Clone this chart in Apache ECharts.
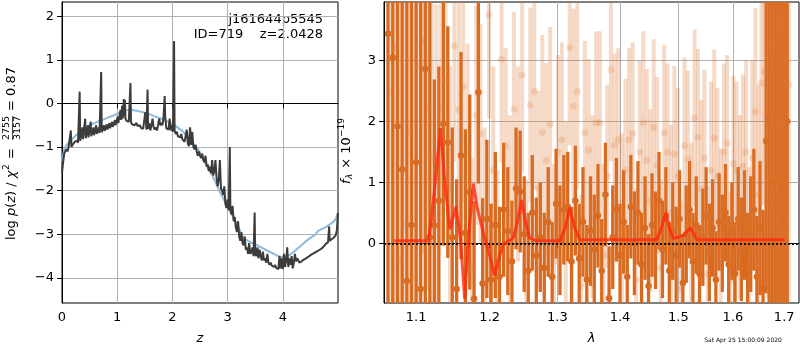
<!DOCTYPE html>
<html>
<head>
<meta charset="utf-8">
<script src="https://cdn.jsdelivr.net/npm/echarts@6/dist/echarts.min.js"></script>
<style>
  html, body { margin: 0; padding: 0; background: #fff; }
  #chart { width: 800px; height: 350px; }
</style>
</head>
<body>
<div id="chart"></div>
<script>
// ---- left panel: log p(z) ----
const zDark = [0.00, 0.02, 0.04, 0.06, 0.08, 0.10, 0.12, 0.14, 0.16, 0.17, 0.19, 0.21, 0.23, 0.25, 0.27, 0.29, 0.31, 0.32, 0.33, 0.35,
  0.37, 0.38, 0.40, 0.42, 0.43, 0.45, 0.47, 0.48, 0.50, 0.52, 0.53, 0.55, 0.57, 0.58, 0.60, 0.62, 0.63, 0.65, 0.67, 0.68,
  0.70, 0.71, 0.72, 0.74, 0.76, 0.77, 0.79, 0.81, 0.82, 0.84, 0.86, 0.87, 0.89, 0.91, 0.92, 0.94, 0.96, 0.97, 0.99, 1.01,
  1.02, 1.04, 1.06, 1.07, 1.09, 1.10, 1.12, 1.13, 1.14, 1.15, 1.17, 1.19, 1.21, 1.23, 1.24, 1.25, 1.27, 1.29, 1.31, 1.33,
  1.35, 1.37, 1.39, 1.41, 1.43, 1.45, 1.47, 1.49, 1.51, 1.53, 1.55, 1.56, 1.58, 1.60, 1.62, 1.64, 1.66, 1.68, 1.70, 1.72,
  1.74, 1.76, 1.78, 1.80, 1.82, 1.84, 1.86, 1.87, 1.89, 1.91, 1.93, 1.95, 1.97, 1.99, 2.01, 2.03, 2.04, 2.06, 2.08, 2.10,
  2.12, 2.14, 2.16, 2.18, 2.20, 2.22, 2.24, 2.26, 2.28, 2.30, 2.32, 2.34, 2.36, 2.38, 2.40, 2.42, 2.44, 2.46, 2.48, 2.50,
  2.52, 2.54, 2.56, 2.58, 2.60, 2.62, 2.64, 2.66, 2.68, 2.70, 2.72, 2.74, 2.76, 2.78, 2.80, 2.82, 2.84, 2.86, 2.88, 2.90,
  2.92, 2.94, 2.96, 2.98, 3.00, 3.02, 3.04, 3.05, 3.07, 3.09, 3.11, 3.13, 3.15, 3.17, 3.19, 3.21, 3.23, 3.25, 3.27, 3.29,
  3.31, 3.33, 3.35, 3.37, 3.39, 3.41, 3.43, 3.45, 3.47, 3.49, 3.50, 3.52, 3.54, 3.56, 3.58, 3.60, 3.62, 3.64, 3.66, 3.68,
  3.70, 3.72, 3.74, 3.76, 3.78, 3.80, 3.82, 3.84, 3.86, 3.88, 3.90, 3.92, 3.94, 3.96, 3.98, 4.00, 4.02, 4.04, 4.06, 4.08,
  4.10, 4.12, 4.14, 4.16, 4.18, 4.20, 4.22, 4.24, 4.26, 4.28, 4.30, 4.34, 4.38, 4.42, 4.46, 4.50, 4.54, 4.58, 4.62, 4.66,
  4.70, 4.74, 4.78, 4.82, 4.84, 4.85, 4.88, 4.92, 4.96, 4.98, 5.00];
const logpDark = [-1.60, -1.35, -1.15, -1.12, -1.05, -1.10, -1.00, -1.02, -0.62, -1.00, -0.95, -0.97, -0.88, -0.92, -0.85, -0.90, -0.88, 0.27, -0.86, -0.84,
  -0.55, -0.82, -0.80, -0.35, -0.80, -0.78, -0.50, -0.78, -0.76, -0.42, -0.75, -0.74, -0.55, -0.73, -0.72, -0.50, -0.70, -0.69, -0.55, -0.68,
  -0.67, 0.72, -0.66, -0.65, -0.50, -0.63, -0.62, -0.48, -0.60, -0.59, -0.45, -0.57, -0.55, -0.42, -0.54, -0.52, -0.38, -0.50, -0.48, -0.30,
  -0.45, -0.42, -0.15, -0.38, -0.05, -0.35, 0.10, -0.30, 0.08, -0.35, -0.40, -0.38, -0.42, -0.45, 0.47, -0.43, -0.48, -0.45, -0.50, -0.48,
  -0.45, -0.52, -0.55, -0.50, -0.56, -0.52, -0.58, -0.55, -0.20, -0.60, 0.32, -0.58, -0.45, -0.62, -0.50, -0.35, -0.55, -0.60, -0.55, -0.62,
  -0.50, -0.35, -0.50, -0.45, -0.50, -0.30, 0.17, -0.30, -0.57, -0.55, -0.60, -0.35, -0.62, -0.50, -0.65, 1.43, -0.62, -0.70, -0.65, -0.75,
  -0.72, -0.78, -0.70, -0.82, -0.80, -0.88, -0.85, -0.60, -0.92, -0.98, -0.55, -0.95, -0.65, -1.00, -1.05, -0.95, -1.10, -1.20, -1.10, -1.20,
  -1.25, -1.15, -1.30, -1.35, -1.20, -1.45, -1.40, -1.55, -1.45, -1.60, -1.30, -1.65, -1.55, -1.30, -1.70, -1.90, -1.75, -1.30, -1.95, -2.00,
  -2.10, -1.90, -2.30, -2.40, -2.20, -2.45, -1.00, -2.40, -2.55, -2.35, -2.70, -2.60, -2.85, -2.95, -2.70, -3.05, -3.15, -2.95, -3.20, -3.25,
  -3.05, -3.35, -3.30, -3.45, -3.20, -3.45, -3.40, -3.30, -3.50, -2.50, -3.45, -3.50, -3.30, -3.55, -3.35, -3.50, -3.60, -3.40, -3.60, -3.55,
  -3.65, -3.45, -3.65, -3.70, -3.65, -3.72, -3.68, -3.75, -3.70, -3.77, -3.73, -3.80, -3.50, -3.78, -3.55, -3.80, -3.45, -3.75, -3.60, -3.30,
  -3.75, -3.55, -3.70, -3.50, -3.78, -3.65, -3.45, -3.62, -3.55, -3.58, -3.65, -3.62, -3.58, -3.55, -3.52, -3.48, -3.45, -3.42, -3.39, -3.36,
  -3.33, -3.28, -3.22, -3.18, -2.82, -3.15, -3.12, -3.08, -3.02, -2.90, -2.50];

const zSmooth = [0.00, 0.04, 0.08, 0.15, 0.23, 0.32, 0.41, 0.50, 0.59, 0.68, 0.77, 0.86, 0.95, 1.04, 1.13, 1.20, 1.27, 1.35, 1.43, 1.55,
  1.67, 1.80, 1.92, 2.05, 2.19, 2.30, 2.40, 2.49, 2.60, 2.73, 2.85, 2.96, 3.10, 3.20, 3.27, 3.33, 3.45, 3.55, 3.70, 3.88,
  4.00, 4.12, 4.20, 4.30, 4.40, 4.48, 4.58, 4.64, 4.70, 4.79, 4.91, 4.96, 5.00];
const logpSmooth = [-1.33, -1.05, -0.96, -0.86, -0.76, -0.66, -0.57, -0.50, -0.45, -0.40, -0.36, -0.31, -0.27, -0.21, -0.16, -0.15, -0.15, -0.17, -0.19, -0.23,
  -0.29, -0.35, -0.42, -0.51, -0.64, -0.80, -0.95, -1.10, -1.38, -1.67, -2.00, -2.27, -2.61, -2.85, -3.05, -3.12, -3.20, -3.26, -3.36, -3.48,
  -3.53, -3.48, -3.40, -3.29, -3.18, -3.10, -3.02, -2.92, -2.88, -2.83, -2.72, -2.65, -2.50];

const zTicks = [0, 1, 2, 3, 4];
const logpTicks = [-4, -3, -2, -1, 0, 1, 2];

// ---- right panel: 1D spectrum ----
const lamDark = [1.064, 1.070, 1.076, 1.082, 1.088, 1.094, 1.100, 1.106, 1.112, 1.118, 1.124, 1.130, 1.136, 1.142, 1.148, 1.154, 1.160, 1.166, 1.172, 1.178,
  1.184, 1.190, 1.196, 1.202, 1.208, 1.214, 1.220, 1.226, 1.232, 1.238, 1.244, 1.250, 1.256, 1.262, 1.268, 1.274, 1.280, 1.286, 1.292, 1.298,
  1.304, 1.310, 1.316, 1.322, 1.328, 1.334, 1.340, 1.346, 1.352, 1.358, 1.364, 1.370, 1.376, 1.382, 1.388, 1.394, 1.400, 1.406, 1.412, 1.418,
  1.424, 1.430, 1.436, 1.442, 1.448, 1.454, 1.460, 1.466, 1.472, 1.478, 1.484, 1.490, 1.496, 1.502, 1.508, 1.514, 1.520, 1.526, 1.532, 1.538,
  1.544, 1.550, 1.556, 1.562, 1.568, 1.574, 1.580, 1.586, 1.592, 1.598, 1.604, 1.610, 1.616, 1.622, 1.628, 1.634, 1.640, 1.646, 1.652, 1.658,
  1.664, 1.670, 1.676, 1.682, 1.688, 1.694, 1.700, 1.706];
const fluxDark = [3.44, 3.05, 1.92, 1.21, -0.62, 0.30, 1.33, -0.75, 2.86, 0.10, 0.29, 0.70, 1.96, 1.66, 0.10, -0.75, 1.44, 0.17, 0.84, -0.91,
  2.48, -0.66, 0.40, -0.60, 0.30, -0.55, 0.55, 0.20, -0.30, 0.90, 0.85, 0.15, -0.45, 0.50, -0.20, 0.10, -0.40, 0.35, -0.55, 0.65,
  0.05, 0.55, 0.60, -0.30, 0.70, -0.25, 0.35, -0.60, 0.20, -0.10, 0.45, -0.45, 0.80, -0.90, 0.10, 0.55, -0.20, 0.35, -0.55, 0.60,
  0.00, 0.50, -0.35, 0.25, -0.70, 0.30, 0.05, 0.70, -0.10, 0.45, -0.45, 0.20, -0.20, 0.40, -0.65, 0.15, 0.55, -0.30, 0.30, -0.50,
  0.10, 0.45, -0.15, 0.25, -0.60, 0.35, 0.00, 0.50, -0.35, 0.20, -0.50, 0.40, -0.10, 0.30, -0.40, 0.15, 0.55, -0.55, 0.25, -0.75,
  1.68, 2.03, 1.00, 0.60, 2.50, 0.96, 0.40, 2.00];
const errDark = [6, 6, 6, 6, 6, 5, 5, 5, 4.5, 4, 2.4, 2.2, 2.0, 1.9, 1.8, 1.8, 1.7, 1.7, 1.6, 1.6,
  1.5, 1.4, 1.3, 1.25, 1.2, 1.15, 1.1, 1.05, 1.0, 1.0, 1.0, 0.95, 0.95, 0.95, 0.95, 0.9, 0.9, 0.9, 0.9, 0.9,
  0.9, 0.9, 0.9, 0.9, 0.9, 0.9, 0.9, 0.9, 0.9, 0.9, 0.85, 0.85, 0.85, 0.85, 0.85, 0.85, 0.85, 0.85, 0.85, 0.85,
  0.85, 0.85, 0.85, 0.85, 0.85, 0.85, 0.8, 0.8, 0.8, 0.8, 0.8, 0.8, 0.8, 0.8, 0.8, 0.8, 0.8, 0.8, 0.8, 0.8,
  0.8, 0.8, 0.8, 0.8, 0.8, 0.8, 0.8, 0.8, 0.8, 0.8, 0.85, 0.85, 0.85, 0.9, 0.9, 0.95, 1.0, 1.0, 1.1, 1.3,
  2.5, 3, 4, 5, 6, 6, 6, 6];

const lamLight = [1.067, 1.073, 1.079, 1.085, 1.091, 1.097, 1.103, 1.109, 1.115, 1.121, 1.127, 1.133, 1.139, 1.145, 1.151, 1.157, 1.163, 1.169, 1.175, 1.181,
  1.187, 1.193, 1.199, 1.205, 1.211, 1.217, 1.223, 1.229, 1.235, 1.241, 1.247, 1.253, 1.259, 1.265, 1.271, 1.277, 1.283, 1.289, 1.295, 1.301,
  1.307, 1.313, 1.319, 1.325, 1.331, 1.337, 1.343, 1.349, 1.355, 1.361, 1.367, 1.373, 1.379, 1.385, 1.391, 1.397, 1.403, 1.409, 1.415, 1.421,
  1.427, 1.433, 1.439, 1.445, 1.451, 1.457, 1.463, 1.469, 1.475, 1.481, 1.487, 1.493, 1.499, 1.505, 1.511, 1.517, 1.523, 1.529, 1.535, 1.541,
  1.547, 1.553, 1.559, 1.565, 1.571, 1.577, 1.583, 1.589, 1.595, 1.601, 1.607, 1.613, 1.619, 1.625, 1.631, 1.637, 1.643, 1.649, 1.655, 1.661,
  1.667, 1.673, 1.679, 1.685, 1.691, 1.697, 1.703, 1.709];
const fluxLight = [2.50, 3.20, -0.30, 0.33, 1.83, -0.56, 2.92, 3.33, 2.23, 1.39, 1.42, 2.20, 2.69, 0.90, 3.24, 2.19, 2.57, 1.48, -0.40, 2.10,
  1.80, 0.20, 3.75, 1.20, -0.50, 3.02, 1.60, 0.50, 2.20, 1.30, 2.76, -0.55, 2.27, 2.49, 0.90, 1.82, 1.36, 1.95, -0.30, 1.49,
  1.70, 0.40, 3.21, 2.25, 2.49, -0.70, 1.82, 1.53, 0.60, 1.98, 1.98, -0.20, 1.10, 2.85, 1.61, 1.70, 0.30, 1.20, 1.70, 1.80,
  -0.60, 1.50, 1.98, 1.36, 0.70, 1.90, 1.28, -0.40, 1.81, 1.50, 0.50, 1.46, 1.10, -0.75, 1.60, 1.38, 0.20, 2.06, 1.74, 0.90,
  1.40, -0.50, 1.20, 1.73, 1.10, 0.10, 1.50, 1.64, -0.60, 1.30, 1.20, 0.60, 1.27, 1.50, -0.30, 1.40, 2.16, 0.80, 2.63, 2.81,
  1.60, 2.93, 3.33, 2.50, 3.60, 2.00, 3.00, 2.60];
const errLight = [6, 6, 6, 5, 5, 4.5, 4, 3.5, 3, 2.8, 2.5, 2.2, 2.0, 2.0, 1.9, 1.9, 1.9, 1.8, 1.8, 1.8,
  1.8, 1.7, 1.7, 1.7, 1.7, 1.7, 1.6, 1.6, 1.6, 1.6, 1.6, 1.6, 1.6, 1.6, 1.6, 1.6, 1.6, 1.6, 1.6, 1.6,
  1.6, 1.6, 1.6, 1.6, 1.6, 1.5, 1.5, 1.5, 1.5, 1.5, 1.5, 1.5, 1.5, 1.5, 1.5, 1.5, 1.5, 1.5, 1.5, 1.5,
  1.5, 1.5, 1.5, 1.5, 1.5, 1.45, 1.45, 1.45, 1.45, 1.45, 1.45, 1.45, 1.45, 1.45, 1.45, 1.45, 1.45, 1.45, 1.45, 1.45,
  1.45, 1.45, 1.45, 1.45, 1.45, 1.45, 1.45, 1.45, 1.45, 1.45, 1.45, 1.5, 1.5, 1.5, 1.55, 1.6, 1.7, 1.8, 2.0, 2.2,
  2.5, 2.8, 3.2, 4, 5, 6, 6, 6];

const lamModel = [1.072, 1.090, 1.105, 1.116, 1.120, 1.126, 1.132, 1.138, 1.145, 1.153, 1.159, 1.165, 1.171, 1.177, 1.183, 1.191, 1.200, 1.207, 1.213, 1.219,
  1.226, 1.234, 1.240, 1.246, 1.252, 1.258, 1.268, 1.290, 1.304, 1.312, 1.319, 1.327, 1.335, 1.380, 1.430, 1.462, 1.469, 1.478, 1.485, 1.491,
  1.500, 1.509, 1.516, 1.522, 1.528, 1.533, 1.600, 1.650, 1.701];
const fluxModel = [0.04, 0.04, 0.04, 0.04, 0.39, 1.10, 1.89, 1.00, 0.23, 0.60, 0.10, -0.91, 0.20, 0.98, 0.55, 0.17, -0.20, -0.53, -0.25, -0.02,
  0.03, 0.09, 0.35, 0.71, 0.35, 0.09, 0.04, 0.04, 0.04, 0.25, 0.58, 0.25, 0.06, 0.06, 0.06, 0.06, 0.22, 0.50, 0.22, 0.08,
  0.10, 0.13, 0.20, 0.25, 0.15, 0.06, 0.06, 0.06, 0.06];

const lamTicks = [1.1, 1.2, 1.3, 1.4, 1.5, 1.6, 1.7];
const fluxTicks = [0, 1, 2, 3];

const FONT = 'DejaVu Sans';
const ORANGE = '#d86a1f';
const ORANGE_LIGHT = 'rgba(222, 120, 50, 0.27)';

const minus = (v) => (v < 0 ? '\u2212' + Math.abs(v) : String(v));

function errorBars(color, width) {
  return function (params, api) {
    const cs = params.coordSys;
    const top = cs.y, bot = cs.y + cs.height;
    const p1 = api.coord([api.value(0), api.value(1)]);
    const p2 = api.coord([api.value(0), api.value(2)]);
    return {
      type: 'line',
      shape: {
        x1: p1[0], y1: Math.min(bot, Math.max(top, p1[1])),
        x2: p2[0], y2: Math.min(bot, Math.max(top, p2[1]))
      },
      style: { stroke: color, lineWidth: width }
    };
  };
}

function axisCommon(ticks, fmt) {
  return {
    axisLine: { show: true, lineStyle: { color: '#000', width: 1 } },
    axisTick: { show: true, length: 5, customValues: ticks, lineStyle: { color: '#000', width: 1 } },
    axisLabel: { customValues: ticks, color: '#000', fontFamily: FONT, fontSize: 13, formatter: fmt },
    splitLine: { show: true, lineStyle: { color: '#b0b0b0', width: 1 } }
  };
}

const chart = echarts.init(document.getElementById('chart'), null, { renderer: 'canvas' });

const txt = (x, y, text, size, opts) => Object.assign({
  type: 'text', x: x, y: y,
  style: Object.assign({
    text: text, font: size + 'px "' + FONT + '"', fill: '#000',
    align: 'left', verticalAlign: 'middle', textAlign: 'left', textVerticalAlign: 'middle'
  }, opts || {})
});

const option = {
  animation: false,
  backgroundColor: '#fff',
  grid: [
    { left: 62, top: 2, width: 276, height: 302, show: true, borderColor: '#000', borderWidth: 1, backgroundColor: 'transparent' },
    { left: 384, top: 2, width: 415, height: 302, show: true, borderColor: '#000', borderWidth: 1, backgroundColor: 'transparent' }
  ],
  xAxis: [
    Object.assign({
      type: 'value', gridIndex: 0, min: 0, max: 5,
      name: 'z', nameLocation: 'middle', nameGap: 29,
      nameTextStyle: { fontFamily: FONT, fontSize: 13, fontStyle: 'italic', color: '#000' }
    }, axisCommon(zTicks, (v) => String(v))),
    Object.assign({
      type: 'log', gridIndex: 1, min: 1.059, max: 1.730, logBase: 10,
      name: '\u03bb', nameLocation: 'middle', nameGap: 29,
      nameTextStyle: { fontFamily: FONT, fontSize: 13, fontStyle: 'italic', color: '#000' }
    }, axisCommon(lamTicks, (v) => Number(v).toFixed(1)))
  ],
  yAxis: [
    Object.assign({ type: 'value', gridIndex: 0, min: -4.575, max: 2.325 }, axisCommon(logpTicks, minus)),
    Object.assign({ type: 'value', gridIndex: 1, min: -0.98, max: 3.96 }, axisCommon(fluxTicks, minus))
  ],
  series: [
    {
      type: 'line', xAxisIndex: 0, yAxisIndex: 0, symbol: 'none', z: 2,
      lineStyle: { color: '#8fbbdb', width: 2 },
      data: zSmooth.map((z, i) => [z, logpSmooth[i]])
    },
    {
      type: 'line', xAxisIndex: 0, yAxisIndex: 0, symbol: 'none', z: 3,
      lineStyle: { color: '#3c3c3c', width: 2 },
      data: zDark.map((z, i) => [z, logpDark[i]])
    },
    {
      type: 'custom', xAxisIndex: 1, yAxisIndex: 1, z: 2, clip: true,
      renderItem: errorBars(ORANGE, 3.3),
      encode: { x: 0, y: [1, 2] },
      data: lamDark.map((l, i) => [l, fluxDark[i] - errDark[i], fluxDark[i] + errDark[i]])
    },
    {
      type: 'scatter', xAxisIndex: 1, yAxisIndex: 1, z: 3, symbolSize: 6.5,
      itemStyle: { color: ORANGE, opacity: 1 },
      data: lamDark.map((l, i) => [l, fluxDark[i]])
    },
    {
      type: 'custom', xAxisIndex: 1, yAxisIndex: 1, z: 4, clip: true,
      renderItem: errorBars(ORANGE_LIGHT, 4),
      encode: { x: 0, y: [1, 2] },
      data: lamLight.map((l, i) => [l, fluxLight[i] - errLight[i], fluxLight[i] + errLight[i]])
    },
    {
      type: 'scatter', xAxisIndex: 1, yAxisIndex: 1, z: 5, symbolSize: 7,
      itemStyle: { color: ORANGE_LIGHT },
      data: lamLight.map((l, i) => [l, fluxLight[i]])
    },
    {
      type: 'line', xAxisIndex: 1, yAxisIndex: 1, symbol: 'none', z: 6,
      lineStyle: { color: 'rgba(255, 40, 15, 0.8)', width: 3 },
      data: lamModel.map((l, i) => [l, fluxModel[i]]),
      markLine: {
        silent: true, symbol: 'none', label: { show: false },
        lineStyle: { color: '#111', width: 2, type: [2, 2] },
        data: [{ yAxis: 0 }]
      }
    }
  ],
  graphic: [
    txt(323, 20, 'j161644p5545', 13, { align: 'right', textAlign: 'right' }),
    txt(323, 35, 'ID=719    z=2.0428', 13, { align: 'right', textAlign: 'right' }),
    txt(743, 340, 'Sat Apr 25 15:00:09 2020', 6, { align: 'center', textAlign: 'center' }),
    {
      type: 'group', x: 12, y: 240, rotation: Math.PI / 2,
      children: [
        {
          type: 'text', x: 0, y: 0,
          style: {
            text: '{r|log }{i|p}{r|(}{i|z}{r|) / }{i|\u03c7}',
            rich: {
              r: { fontFamily: FONT, fontSize: 13, fill: '#000', color: '#000' },
              i: { fontFamily: FONT, fontSize: 13, fontStyle: 'italic', fill: '#000', color: '#000' }
            },
            align: 'left', verticalAlign: 'middle', textAlign: 'left', textVerticalAlign: 'middle'
          }
        },
        txt(70, -5, '2', 9),
        txt(81, 0, '=', 13),
        txt(112, -5, '2755', 9.5, { align: 'center', textAlign: 'center' }),
        { type: 'line', shape: { x1: 100, y1: 0.5, x2: 124, y2: 0.5 }, style: { stroke: '#000', lineWidth: 0.7 } },
        txt(112, 5.5, '3157', 9.5, { align: 'center', textAlign: 'center' }),
        txt(129, 0, '= 0.87', 13)
      ]
    },
    {
      type: 'group', x: 347, y: 184, rotation: Math.PI / 2,
      children: [
        txt(0, 0, 'f', 13, { font: 'italic 13px "' + FONT + '"' }),
        txt(5, 3, '\u03bb', 9, { font: 'italic 9px "' + FONT + '"' }),
        txt(11, 0, ' \u00d7 10', 13),
        txt(47, -5, '\u221219', 9)
      ]
    }
  ]
};

chart.setOption(option);
</script>
</body>
</html>
